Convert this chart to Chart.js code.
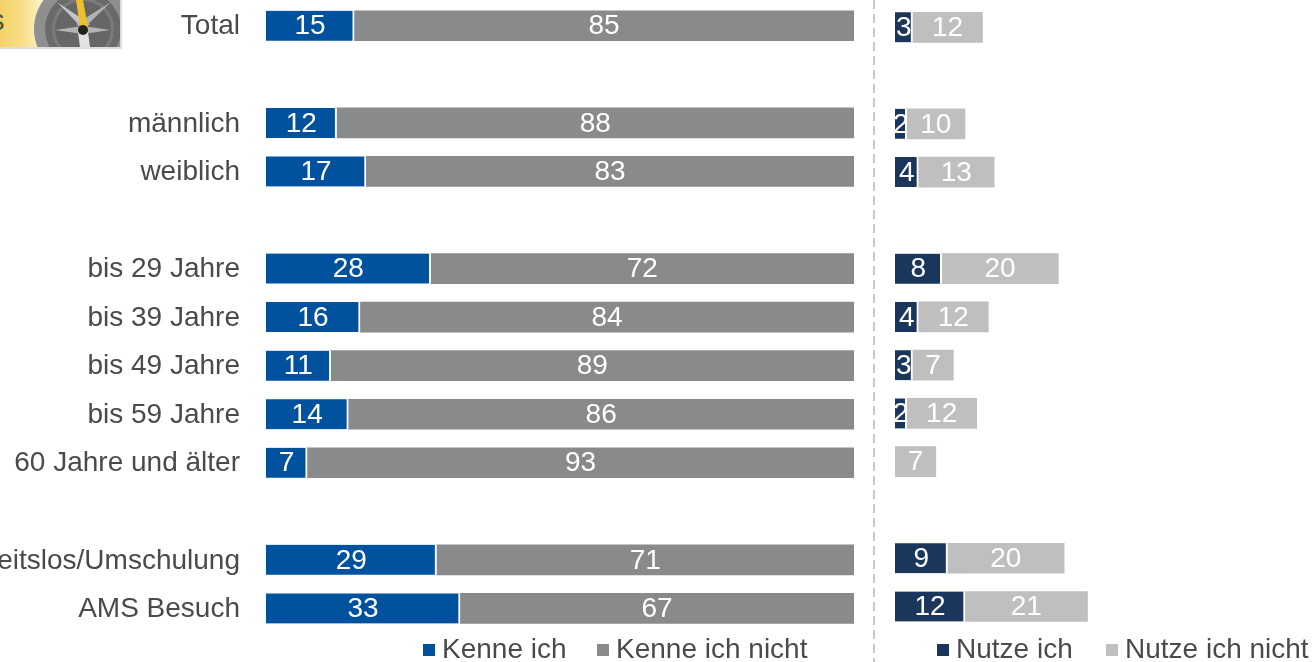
<!DOCTYPE html>
<html lang="de">
<head>
<meta charset="utf-8">
<script src="https://cdn.jsdelivr.net/npm/chart.js@4/dist/chart.umd.js"></script>
<style>
html,body{margin:0;padding:0;background:#fff;width:1312px;height:662px;overflow:hidden}
canvas{position:absolute;top:0}
#divider{position:absolute;left:873px;top:0;width:2px;height:662px;background:repeating-linear-gradient(to bottom,#c9c9c9 0 9px,transparent 9px 14px)}
#icon{position:absolute;left:0;top:0}
.lg{position:absolute;top:632px;height:34px;line-height:34px;font:28px/34px "Liberation Sans",Arial,sans-serif;color:#4a4a4a;white-space:nowrap}
.sw{position:absolute;top:12px;left:-19px;width:12px;height:12px}
</style>
</head>
<body>
<svg id="icon" width="122" height="49" viewBox="0 0 122 49">
<defs>
<linearGradient id="g" x1="0" x2="1" y1="0" y2="0"><stop offset="0" stop-color="#f4d264"/><stop offset=".55" stop-color="#f8e08c"/><stop offset="1" stop-color="#fdf6d4"/></linearGradient>
<clipPath id="c"><rect width="120" height="47"/></clipPath>
</defs>
<rect width="122" height="49" fill="#dedede"/>
<g clip-path="url(#c)">
<rect width="120" height="47" fill="url(#g)"/>
<rect x="40" width="80" height="47" fill="#eeeeee"/>
<rect x="0" width="45" height="47" fill="url(#g)"/>
<circle cx="83" cy="29" r="49" fill="#8f8f8f"/>
<circle cx="83" cy="29" r="38" fill="#6a6a6a"/>
<circle cx="83" cy="29" r="31" fill="#7b7b7b"/>
<circle cx="83" cy="29" r="28" fill="#666666"/>
<path d="M83 29 L57 2 L90 24 Z" fill="#c4c4c4"/>
<path d="M83 29 L111 2 L76 24 Z" fill="#b2b2b2"/>
<path d="M55 30 L83 26 L110 30 L83 34 Z" fill="#b4b4b4"/>
<path d="M76 0 L83 0 L88 27 L80 27 Z" fill="#eec02e"/>
<path d="M78 32 L88 32 L90 47 L80 47 Z" fill="#e2e2e2"/>
<circle cx="83" cy="30" r="5" fill="#222"/>
</g>
<text x="-10" y="30" font-family="Liberation Sans" font-size="29" fill="#3f5a3a">s</text>
</svg>
<div id="divider"></div>
<canvas id="left" width="873" height="662" style="left:0"></canvas>
<canvas id="right" width="437" height="662" style="left:875px"></canvas>
<div id="legend"></div>
<script>
const categories = ['Total','','männlich','weiblich','','bis 29 Jahre','bis 39 Jahre','bis 49 Jahre','bis 59 Jahre','60 Jahre und älter','','Arbeitslos/Umschulung','AMS Besuch'];
const kenneIch      = [15,null,12,17,null,28,16,11,14,7,null,29,33];
const kenneIchNicht = [85,null,88,83,null,72,84,89,86,93,null,71,67];
const nutzeIch      = [3,null,2,4,null,8,4,3,2,null,null,9,12];
const nutzeIchNicht = [12,null,10,13,null,20,12,7,12,7,null,20,21];
const legendEntries = [
  {label:'Kenne ich',color:'#00529f',x:442},
  {label:'Kenne ich nicht',color:'#888a8c',x:616},
  {label:'Nutze ich',color:'#1b365d',x:956},
  {label:'Nutze ich nicht',color:'#bfbfbf',x:1125}
];
const FONT = '"Liberation Sans", Arial, sans-serif';

const barLabels = {
  id:'barLabels',
  afterDatasetsDraw(chart){
    const ctx = chart.ctx;
    ctx.save();
    ctx.font = '28px ' + FONT;
    ctx.fillStyle = '#fff';
    ctx.textAlign = 'center';
    ctx.textBaseline = 'middle';
    chart.data.datasets.forEach((ds,i)=>{
      chart.getDatasetMeta(i).data.forEach((el,j)=>{
        const v = ds.data[j];
        if(!v) return;
        const p = el.getProps(['x','base','y'],true);
        ctx.fillText(String(v),(p.x+p.base)/2,p.y+1);
      });
    });
    ctx.restore();
  }
};

function ds(label,data,color,gap){
  return {label,data,backgroundColor:color,borderColor:'#fff',
          borderWidth:gap?{right:2}:0,borderSkipped:false,barThickness:30,stack:'s'};
}
function makeChart(id,a,b,xMax,padding,showY){
  return new Chart(document.getElementById(id),{
    type:'bar',
    data:{labels:categories,datasets:[a,b]},
    plugins:[barLabels],
    options:{
      indexAxis:'y',responsive:false,animation:false,
      layout:{padding},
      plugins:{legend:{display:false},tooltip:{enabled:false}},
      scales:{
        x:{display:false,stacked:true,min:0,max:xMax},
        y:{display:showY,stacked:true,
           grid:{display:false,drawTicks:false},border:{display:false},
           ticks:{autoSkip:false,padding:26,labelOffset:1,color:'#4a4a4a',font:{family:FONT,size:28}},
           afterFit(s){ if(showY){ s.width = 266; s.paddingTop = 0; s.paddingBottom = 0; } }}
      }
    }
  });
}
makeChart('left',
  ds('Kenne ich',kenneIch,legendEntries[0].color,true),
  ds('Kenne ich nicht',kenneIchNicht,legendEntries[1].color,false),
  100,{left:0,right:19,top:1.5,bottom:29.3},true);
makeChart('right',
  ds('Nutze ich',nutzeIch,legendEntries[2].color,true),
  ds('Nutze ich nicht',nutzeIchNicht,legendEntries[3].color,false),
  60,{left:20,right:67,top:3.2,bottom:31.4},false);

const lg = document.getElementById('legend');
legendEntries.forEach(e=>{
  const d = document.createElement('div');
  d.className='lg'; d.style.left=e.x+'px'; d.textContent=e.label;
  const s = document.createElement('span');
  s.className='sw'; s.style.background=e.color;
  d.appendChild(s); lg.appendChild(d);
});
</script>
</body>
</html>
